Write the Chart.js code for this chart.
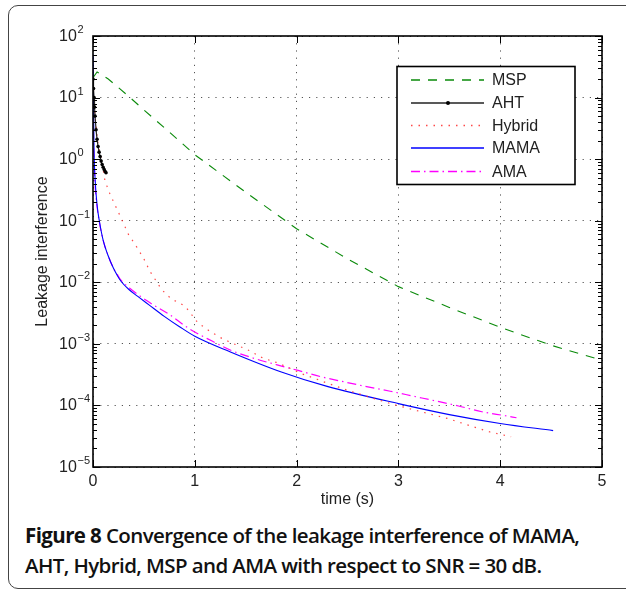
<!DOCTYPE html>
<html>
<head>
<meta charset="utf-8">
<script src="https://cdn.jsdelivr.net/npm/chart.js@4/dist/chart.umd.min.js"></script>
<style>
body{margin:0;background:#fff;width:626px;height:590px;overflow:hidden;position:relative}
#box{position:absolute;left:8px;top:5px;width:650px;height:582px;border:1.5px solid #444;border-radius:10px}
#c{position:absolute;left:0;top:0}
#cap{position:absolute;left:25px;top:520px;width:600px;font-family:"Open Sans",sans-serif;font-size:20.5px;line-height:30px;font-weight:600;letter-spacing:-0.6px;color:#111;white-space:nowrap}
#cap b{font-weight:700}
</style>
</head>
<body>
<div id="box"></div>
<canvas id="c" width="626" height="520"></canvas>
<div id="cap"><b>Figure 8</b> Convergence of the leakage interference of MAMA,<br>AHT, Hybrid, MSP and AMA with respect to SNR = 30 dB.</div>
<script>

// values (time in s, leakage interference)
const mspT=[0,0.04,0.15,0.35,0.5,0.75,1.0,1.5,2.0,2.5,3.0,3.5,4.0,4.5,5.0]
const mspV=[21,26,20,10.5,6.3,2.75,1.18,0.29,0.074,0.024,0.0085,0.0039,0.00186,0.00095,0.00054]

const ahtT=[0,0.005,0.01,0.015,0.02,0.03,0.04,0.05,0.06,0.07,0.08,0.09,0.1,0.11,0.12,0.128]
const ahtV=[20,14,10,7,5,3,2.1,1.6,1.3,1.1,0.93,0.82,0.74,0.68,0.63,0.6]

const hybT=[0,0.02,0.05,0.09,0.118,0.167,0.26,0.348,0.427,0.5,0.56,0.675,0.767,0.905,1.03,1.147,1.272,1.403,1.534,1.666,1.8,1.924,2.055,2.19,2.32,2.53,2.665,2.94,3.21,3.49,3.7,3.9,4.107]
const hybV=[18,5,1.7,0.85,0.44,0.27,0.126,0.06,0.038,0.024,0.015,0.0076,0.0054,0.0041,0.0022,0.0016,0.00121,0.00097,0.00078,0.00059,0.0005,0.00041,0.000325,0.00027,0.000224,0.00017,0.000145,0.000105,0.00008,0.000061,0.000047,0.000037,0.000031]

const mamaT=[0,0.01,0.02,0.04,0.063,0.1,0.145,0.2,0.24,0.275,0.35,0.44,0.55,0.7,0.85,1.0,1.35,1.85,2.3,3.0,3.5,4.0,4.52]
const mamaV=[50,1.5,0.5,0.18,0.098,0.048,0.028,0.017,0.0128,0.0104,0.0077,0.0059,0.0043,0.0028,0.0019,0.00133,0.00074,0.00035,0.000204,0.000107,0.000071,0.000051,0.000039]

const amaT=[0,0.01,0.02,0.04,0.06,0.1,0.15,0.2,0.24,0.275,0.358,0.538,0.75,0.95,1.165,1.36,1.57,1.8,2.015,2.23,2.475,2.7,2.92,3.15,3.38,3.59,3.82,4.05,4.16]
const amaV=[3,1.0,0.4,0.17,0.1,0.048,0.027,0.017,0.0133,0.0108,0.0081,0.0049,0.003,0.00174,0.00112,0.00078,0.00059,0.00046,0.00037,0.000295,0.00024,0.0002,0.00017,0.000141,0.000117,0.000098,0.000079,0.000068,0.000063]

const xTicks=[0,1,2,3,4,5]
const yExps=[-5,-4,-3,-2,-1,0,1,2]

const pts=(t,v)=>t.map((x,i)=>({x:x,y:v[i]}))

const series=[
{label:"MSP",data:pts(mspT,mspV),borderColor:"#0a8a0a",borderDash:[9,8],borderWidth:1.1,pointRadius:0},
{label:"AHT",data:pts(ahtT,ahtV),borderColor:"#222",borderWidth:1.2,pointRadius:1.8,pointBackgroundColor:"#000",pointBorderWidth:0},
{label:"Hybrid",data:pts(hybT,hybV),borderColor:"rgba(255,40,40,0.85)",borderDash:[1.5,6],borderWidth:1.2,pointRadius:0},
{label:"MAMA",data:pts(mamaT,mamaV),borderColor:"#0000ff",borderWidth:1.1,pointRadius:0,cubicInterpolationMode:"monotone"},
{label:"AMA",data:pts(amaT,amaV),borderColor:"#ff00ff",borderDash:[9,4,1.5,4],borderWidth:1.2,pointRadius:0,cubicInterpolationMode:"monotone"}
]

const font="'Liberation Sans',Arial,sans-serif"

function seg(ctx,x1,y1,x2,y2){
ctx.beginPath()
ctx.moveTo(x1,y1)
ctx.lineTo(x2,y2)
ctx.stroke()
}

const decor={
id:"decor",
afterDraw(c){
const ctx=c.ctx,a=c.chartArea,xs=c.scales.x,ys=c.scales.y
ctx.save()
ctx.strokeStyle="#000"
ctx.lineWidth=1

// minor ticks on the log axis
for(let e=yExps[0];e<yExps[yExps.length-1];e++){
for(let k=2;k<10;k++){
let p=Math.round(ys.getPixelForValue(k*Math.pow(10,e)))+0.5
seg(ctx,a.left,p,a.left+4,p)
seg(ctx,a.right,p,a.right-4,p)
}
}

// major ticks
yExps.forEach(e=>{
let p=Math.round(ys.getPixelForValue(Math.pow(10,e)))+0.5
seg(ctx,a.left,p,a.left+7,p)
seg(ctx,a.right,p,a.right-7,p)
})
xTicks.forEach(v=>{
let p=Math.round(xs.getPixelForValue(v))+0.5
seg(ctx,p,a.bottom,p,a.bottom-7)
seg(ctx,p,a.top,p,a.top+7)
})

ctx.lineWidth=1.6
ctx.strokeRect(a.left,a.top,a.right-a.left,a.bottom-a.top)

// tick labels
ctx.fillStyle="#222"
ctx.textBaseline="middle"
yExps.forEach(e=>{
let p=ys.getPixelForValue(Math.pow(10,e))
ctx.font="16px "+font
ctx.textAlign="left"
ctx.fillText("10",59,p+0.5)
ctx.font="11px "+font
ctx.fillText(e<0?"\u2212"+(-e):""+e,77.5,p-6)
})
ctx.font="16px "+font
ctx.textAlign="center"
xTicks.forEach(v=>{
ctx.fillText(""+v,xs.getPixelForValue(v),482)
})

// legend
let lx=397,ly=66.5,lw=178,lh=118
ctx.fillStyle="#fff"
ctx.fillRect(lx,ly,lw,lh)
ctx.lineWidth=1.6
ctx.strokeStyle="#000"
ctx.strokeRect(lx,ly,lw,lh)
let rows=[80,103,125.5,148,171.5]
series.forEach((s,i)=>{
ctx.save()
ctx.strokeStyle=s.borderColor
ctx.lineWidth=s.borderWidth+0.3
ctx.setLineDash(s.borderDash||[])
seg(ctx,411,rows[i],484,rows[i])
ctx.restore()
if(s.pointRadius){
ctx.fillStyle="#000"
ctx.beginPath()
ctx.arc(448,rows[i],2,0,Math.PI*2)
ctx.fill()
}
ctx.fillStyle="#222"
ctx.textAlign="left"
ctx.font="16px "+font
ctx.fillText(s.label,492,rows[i]+1)
})
ctx.restore()
}
}

new Chart(document.getElementById("c"),{
type:"line",
data:{datasets:series},
options:{
responsive:false,
animation:false,
layout:{padding:{left:0,top:36,right:24,bottom:0}},
plugins:{legend:{display:false},tooltip:{enabled:false}},
scales:{
x:{
type:"linear",min:0,max:5,
ticks:{display:false,stepSize:1},
afterBuildTicks:s=>{s.ticks=xTicks.map(v=>({value:v}))},
afterFit:s=>{s.height=53},
grid:{color:"#555",drawTicks:false,lineWidth:1},
border:{display:false,dash:[1.2,6]},
title:{display:true,text:"time (s)",color:"#222",font:{size:16,family:font},padding:{top:0,bottom:11}}
},
y:{
type:"logarithmic",min:1e-5,max:100,
ticks:{display:false},
afterBuildTicks:s=>{s.ticks=yExps.map(e=>({value:Math.pow(10,e)}))},
afterFit:s=>{s.width=93},
grid:{color:"#555",drawTicks:false,lineWidth:1},
border:{display:false,dash:[1.2,6]},
title:{display:true,text:"Leakage interference",color:"#222",font:{size:16,family:font},padding:{top:33,bottom:0}}
}
}
},
plugins:[decor]
})

</script>
</body>
</html>
